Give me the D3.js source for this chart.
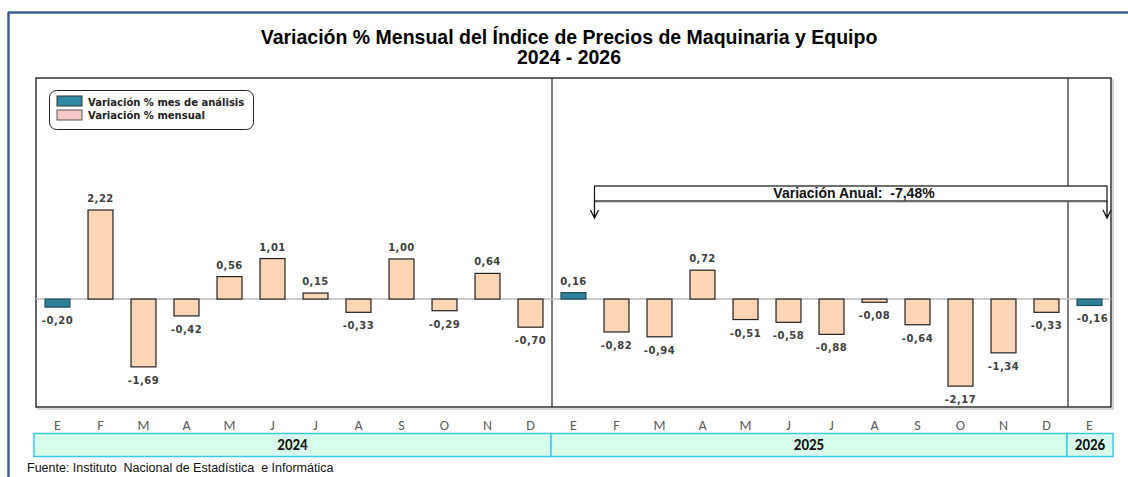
<!DOCTYPE html>
<html>
<head>
<meta charset="utf-8">
<title>Variación % Mensual IPME</title>
<script src="https://cdn.jsdelivr.net/npm/d3@7"></script>
<style>
  body { margin: 0; background: #fff; }
  svg { display: block; font-family: "Liberation Sans", Arial, sans-serif; }
</style>
</head>
<body>
<div id="chart"></div>
<script>
// months and values (%), 2024-01 .. 2026-01
var months = ["E","F","M","A","M","J","J","A","S","O","N","D",
              "E","F","M","A","M","J","J","A","S","O","N","D","E"];
var values = [-0.20, 2.22, -1.69, -0.42, 0.56, 1.01, 0.15, -0.33, 1.00, -0.29, 0.64, -0.70,
              0.16, -0.82, -0.94, 0.72, -0.51, -0.58, -0.88, -0.08, -0.64, -2.17, -1.34, -0.33, -0.16];
// bars highlighted as "mes de análisis"
var highlight = [0, 12, 24];
var years = [{label: "2024", from: 0, to: 11}, {label: "2025", from: 12, to: 23}, {label: "2026", from: 24, to: 24}];
var annualText = "Variación Anual:  -7,48%";

var W = 1128, H = 477;
var svg = d3.select("#chart").append("svg").attr("width", W).attr("height", H);

var pL = 36, pR = 1111, pT = 78, pB = 407;

var x = d3.scaleBand().domain(d3.range(months.length)).range([pL, pR]).paddingInner(0.42).paddingOuter(0.21);
var y = d3.scaleLinear().domain([-2.69, 5.51]).range([pB, pT]);
var step = x.step();

// outer frame (top & left only)
svg.append("line").attr("x1", 8).attr("x2", W).attr("y1", 12.5).attr("y2", 12.5)
  .attr("stroke", "#3d5f94").attr("stroke-width", 2.5);
svg.append("line").attr("x1", 8.5).attr("x2", 8.5).attr("y1", 12).attr("y2", H)
  .attr("stroke", "#3d5f94").attr("stroke-width", 2.5);

// title
svg.append("text").attr("x", 569).attr("y", 44).attr("text-anchor", "middle")
  .style("font-size", "19.5px").style("font-weight", "bold").text("Variación % Mensual del Índice de Precios de Maquinaria y Equipo");
svg.append("text").attr("x", 569).attr("y", 64).attr("text-anchor", "middle")
  .style("font-size", "19.5px").style("font-weight", "bold").text("2024 - 2026");

// plot area shadow + border
svg.append("rect").attr("x", pL + 2).attr("y", pT + 2).attr("width", pR - pL).attr("height", pB - pT)
  .attr("fill", "none").attr("stroke", "#c8c8c8").attr("stroke-width", 1.5);
svg.append("rect").attr("x", pL).attr("y", pT).attr("width", pR - pL).attr("height", pB - pT)
  .attr("fill", "#fff").attr("stroke", "#111").attr("stroke-width", 1.3);

// year separators
[12, 24].forEach(function (i) {
  var sx = pL + step * i;
  svg.append("line").attr("x1", sx).attr("x2", sx).attr("y1", pT).attr("y2", pB)
    .attr("stroke", "#333").attr("stroke-width", 1.3);
});

// zero line
svg.append("line").attr("x1", pL).attr("x2", pR).attr("y1", y(0)).attr("y2", y(0))
  .attr("stroke", "#bdbdbd").attr("stroke-width", 1.5);

// bars
svg.selectAll("rect.bar").data(values).enter().append("rect").attr("class", "bar")
  .attr("x", function (d, i) { return x(i); })
  .attr("width", x.bandwidth())
  .attr("y", function (d) { return y(Math.max(0, d)); })
  .attr("height", function (d) { return Math.abs(y(d) - y(0)); })
  .attr("fill", function (d, i) { return highlight.indexOf(i) >= 0 ? "#2f7f99" : "#fcd5b5"; })
  .attr("stroke", function (d, i) { return highlight.indexOf(i) >= 0 ? "#1c4f60" : "#222"; })
  .attr("stroke-width", 1.2);

// value labels
var fmt = function (v) { return v.toFixed(2).replace(".", ","); };
svg.selectAll("text.val").data(values).enter().append("text").attr("class", "val")
  .attr("x", function (d, i) { return x(i) + x.bandwidth() / 2 + (i === 24 ? 3 : 0); })
  .attr("y", function (d) { return d >= 0 ? y(d) - 8 : y(d) + 17; })
  .attr("text-anchor", "middle")
  .style("font-family", "'DejaVu Sans', Verdana, sans-serif")
  .style("font-size", "10px").style("font-weight", "bold").style("fill", "#404040")
  .style("letter-spacing", "0.5px")
  .text(function (d) { return fmt(d); });

// month labels
svg.selectAll("text.mon").data(months).enter().append("text").attr("class", "mon")
  .attr("x", function (d, i) { return x(i) + x.bandwidth() / 2; })
  .attr("y", 430).attr("text-anchor", "middle")
  .style("font-family", "Carlito, 'Open Sans', sans-serif")
  .style("font-size", "14px").style("fill", "#595959")
  .text(function (d) { return d; });

// year bands
years.forEach(function (yr) {
  var x0 = pL + step * yr.from - (yr.from === 0 ? 2 : 1);
  var x1 = pL + step * (yr.to + 1) + (yr.to === 24 ? 2 : -1);
  svg.append("rect").attr("x", x0).attr("y", 433.5).attr("width", x1 - x0).attr("height", 23)
    .attr("fill", "#d9fdeb").attr("stroke", "#3cc8ee").attr("stroke-width", 1.5);
  svg.append("text").attr("x", (x0 + x1) / 2).attr("y", 450).attr("text-anchor", "middle")
    .style("font-family", "Carlito, 'Open Sans', sans-serif")
    .style("font-size", "15px").style("font-weight", "bold").style("fill", "#111").text(yr.label);
});

// legend
var lg = svg.append("g");
lg.append("rect").attr("x", 49.5).attr("y", 90.5).attr("width", 204).attr("height", 39).attr("rx", 7)
  .attr("fill", "#fff").attr("stroke", "#222").attr("stroke-width", 1);
lg.append("rect").attr("x", 57).attr("y", 96).attr("width", 25).attr("height", 10)
  .attr("fill", "#2f8aa5").attr("stroke", "#333");
lg.append("rect").attr("x", 57).attr("y", 110).attr("width", 25).attr("height", 10)
  .attr("fill", "#f8c8c8").attr("stroke", "#555");
lg.append("text").attr("x", 88).attr("y", 106)
  .style("font-family", "'DejaVu Sans', Verdana, sans-serif")
  .style("font-size", "10px").style("font-weight", "bold")
  .style("fill", "#222").text("Variación % mes de análisis");
lg.append("text").attr("x", 88).attr("y", 119)
  .style("font-family", "'DejaVu Sans', Verdana, sans-serif")
  .style("font-size", "10px").style("font-weight", "bold")
  .style("fill", "#222").text("Variación % mensual");

// annual variation bracket
var ax0 = x(13) + x.bandwidth() / 2 - 22, ax1 = 1107;
svg.append("rect").attr("x", ax0).attr("y", 186).attr("width", ax1 - ax0).attr("height", 15)
  .attr("fill", "#fff").attr("stroke", "#111").attr("stroke-width", 1.2);
svg.append("line").attr("x1", ax0).attr("x2", ax1).attr("y1", 201.5).attr("y2", 201.5)
  .attr("stroke", "#666").attr("stroke-width", 1.5);
[ax0, ax1].forEach(function (ax) {
  svg.append("path").attr("d", "M" + ax + ",201 V218 M" + (ax - 4) + ",210 L" + ax + ",218 L" + (ax + 4) + ",210")
    .attr("fill", "none").attr("stroke", "#111").attr("stroke-width", 1.3);
});
svg.append("text").attr("x", 854).attr("y", 198).attr("text-anchor", "middle")
  .style("font-size", "14px").style("font-weight", "bold").style("fill", "#111")
  .style("white-space", "pre").text(annualText);

// footer
svg.append("text").attr("x", 27).attr("y", 472).style("font-size", "12.5px").style("fill", "#111")
  .style("white-space", "pre")
  .text("Fuente: Instituto  Nacional de Estadística  e Informática");
</script>
</body>
</html>
